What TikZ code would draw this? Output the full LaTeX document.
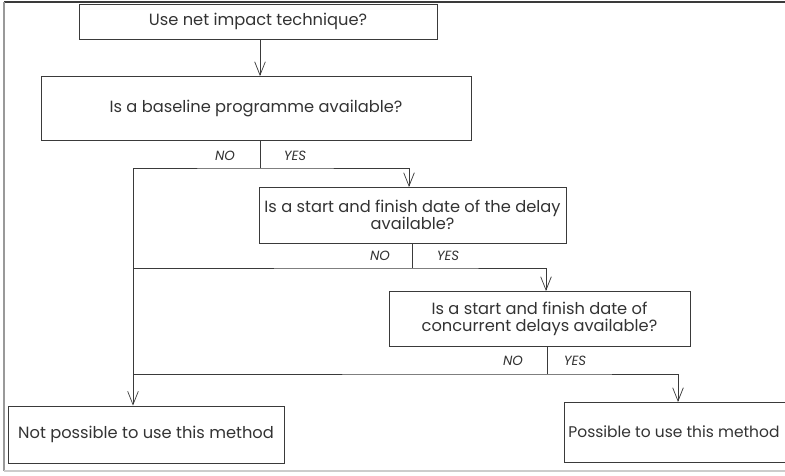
\documentclass[tikz,border=0pt]{standalone}
\usepackage{fontspec}
\setmainfont{Poppins}
\usetikzlibrary{arrows.meta}
\definecolor{edge}{HTML}{3A3A3A}
\definecolor{txt}{HTML}{333333}
\tikzset{
  qbox/.style={draw=edge, line width=0.6pt, text=txt, align=center, inner sep=0pt,
    font=\fontsize{12.2}{12.6}\selectfont},
  lbl/.style={text=txt, font=\fontsize{10}{11}\selectfont\itshape, inner sep=0pt},
  flow/.style={draw=edge, line width=0.6pt},
  arr/.style={flow, -{Straight Barb[length=10pt,width=8pt,line width=0.55pt]}}
}
\begin{document}
\begin{tikzpicture}[x=0.75pt,y=-0.75pt]
\useasboundingbox (0,0) rectangle (785,475);
% frame
\draw[edge, line width=0.8pt] (4,2) -- (785,2);
\draw[gray!80, line width=1.4pt] (4,2) -- (4,471);
\draw[gray!40, line width=0.8pt] (4,471) -- (785,471);

% boxes
\node[qbox, minimum width=358*0.75pt, minimum height=35*0.75pt] (q1) at (258,21.5) {Use net impact technique?};
\node[qbox, minimum width=430*0.75pt, minimum height=64*0.75pt] (q2) at (256,108.5) {Is a baseline programme available?};
\node[qbox, minimum width=307*0.75pt, minimum height=56*0.75pt] (q3) at (412.5,215) {Is a start and finish date of the delay\\available?};
\node[qbox, minimum width=301*0.75pt, minimum height=55*0.75pt] (q4) at (539.5,318.5) {Is a start and finish date of\\concurrent delays available?};
\node[qbox, minimum width=276*0.75pt, minimum height=57*0.75pt] (no) at (146,434.5) {Not possible to use this method};
\node[qbox, minimum width=232*0.75pt, minimum height=60*0.75pt, anchor=west,
      inner xsep=2.5pt, font=\fontsize{11.6}{12}\selectfont] (yes) at (564,432) {\makebox[168pt][l]{Possible to use this method}};

% branch points
\coordinate (b1) at (260,168);
\coordinate (b2) at (412,268);
\coordinate (b3) at (547,374);

\draw[arr] (q1.south -| b1) -- (q2.north -| b1);

\draw[flow] (q2.south -| b1) -- (b1);
\draw[arr] (133,168) -- (b1) -| (409,187);
\node[lbl] at (225,156) {NO};
\node[lbl] at (295,156) {YES};

\draw[flow] (q3.south -| b2) -- (b2);
\draw[arr] (133,268) -- (b2) -| (546,291);
\node[lbl] at (380,256) {NO};
\node[lbl] at (448,256) {YES};

\draw[flow] (q4.south -| b3) -- (b3);
\draw[arr] (133,374) -- (b3) -| (678,402);
\node[lbl] at (513,361) {NO};
\node[lbl] at (575,361) {YES};

\draw[arr] (133,168) -- (no.north -| 133,0);
\end{tikzpicture}
\end{document}
